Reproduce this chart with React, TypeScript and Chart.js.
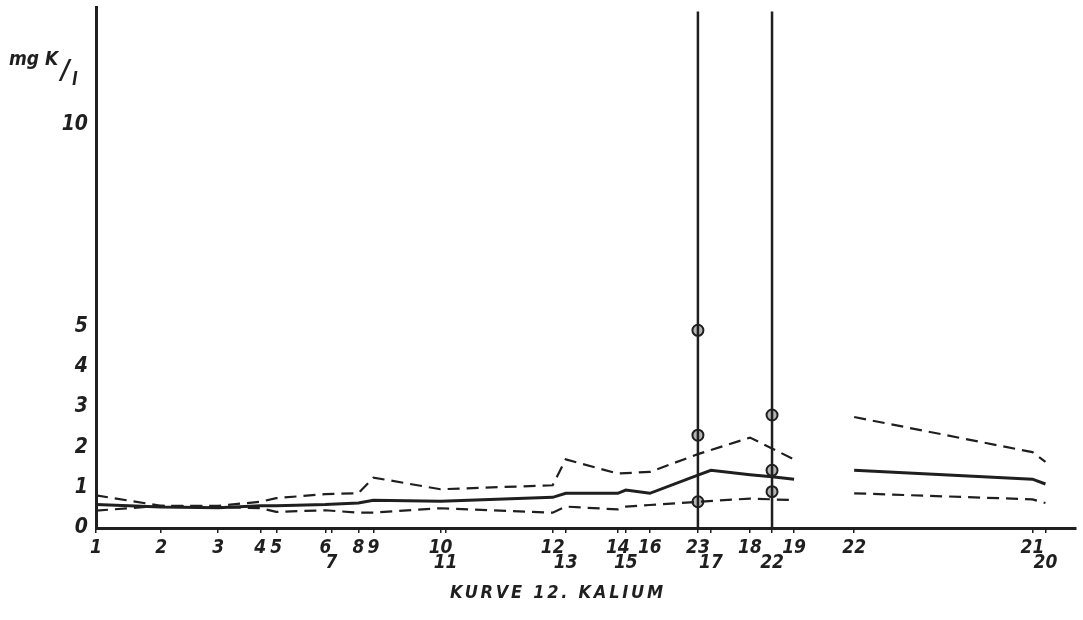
import React, { useEffect, useRef } from 'react';
import { Chart, registerables } from 'chart.js';

Chart.register(...registerables);

const INK = '#1f1f1f';
const FONT = "'DejaVu Sans Condensed', 'DejaVu Sans', sans-serif";

// Sampling stations along the river (label, position, label row)
const stationLabels = ['1', '2', '3', '4', '5', '6', '7', '8', '9', '10', '11', '12', '13', '14', '15', '16', '23', '17', '18', '22', '19', '22', '21', '20'];
const stationKm = [0, 6.5, 12.2, 16.4, 18.0, 22.9, 23.5, 26.2, 27.7, 34.4, 34.9, 45.6, 46.9, 52.1, 52.9, 55.3, 60.1, 61.4, 65.3, 67.5, 69.7, 75.7, 93.5, 94.8];
const labelRow = [1, 1, 1, 1, 1, 1, 2, 1, 1, 1, 2, 1, 2, 1, 2, 1, 1, 2, 1, 2, 1, 1, 1, 2];
const leftCount = 21;

// mg K / l — left reach (stations 1..19) and right reach (22, 21, 20)
const meanLeft = [0.58, 0.52, 0.5, 0.55, 0.55, 0.58, null, 0.62, 0.69, 0.66, null, 0.76, 0.86, 0.86, 0.94, 0.86, 1.31, 1.43, 1.32, 1.27, 1.21];
const upperLeft = [0.81, 0.55, 0.55, 0.65, 0.74, 0.84, null, 0.86, 1.25, 0.96, null, 1.06, 1.7, 1.35, null, 1.39, 1.83, null, 2.24, null, 1.7];
const lowerLeft = [0.43, 0.55, 0.52, 0.49, 0.4, 0.44, null, 0.38, 0.38, 0.49, null, 0.38, 0.53, 0.46, 0.53, 0.57, 0.65, null, 0.73, null, 0.69];
const meanRight = [1.43, 1.21, 1.09];
const upperRight = [2.75, 1.88, 1.64];
const lowerRight = [0.86, 0.71, 0.62];

// vertical profiles at stations 23 and 22
const profileStationIdx = [16, 19];
const profileTop = 12.8;
const samplesAt23 = [4.9, 2.3, 0.65];
const samplesAt22 = [2.8, 1.43, 0.9];

const yTicks = [0, 1, 2, 3, 4, 5, 10];
const yMax = 12.9;
const xMax = 97.8;
const title = 'KURVE 12. KALIUM';

const pts = (vals: (number | null)[], offset: number) =>
  vals.map((y, i) => ({ x: stationKm[offset + i], y }));

const lineDs = (vals: (number | null)[], offset: number, dashed: boolean) => ({
  data: pts(vals, offset),
  borderColor: INK,
  borderWidth: dashed ? 2.2 : 3,
  borderDash: dashed ? [12, 7] : [],
  pointRadius: 0,
  spanGaps: true,
  tension: 0,
  fill: false,
});

const annotPlugin = {
  id: 'annot',
  afterDraw(chart: any) {
    const ctx = chart.ctx as CanvasRenderingContext2D;
    ctx.save();
    ctx.fillStyle = INK;
    ctx.textBaseline = 'alphabetic';
    ctx.textAlign = 'left';
    ctx.font = `italic bold 19px ${FONT}`;
    ctx.fillText('mg K', 9, 65);
    ctx.font = `italic bold 27px ${FONT}`;
    ctx.fillText('/', 61, 79);
    ctx.font = `italic bold 17px ${FONT}`;
    ctx.fillText('l', 72, 85);

    ctx.font = `italic bold 18px ${FONT}`;
    const target = 213;
    (ctx as any).letterSpacing = '0px';
    const w = ctx.measureText(title).width;
    const ls = Math.max(0, (target - w) / (title.length - 1));
    (ctx as any).letterSpacing = `${ls}px`;
    ctx.fillText(title, 450, 598);
    ctx.restore();
  },
};

export default function App() {
  const ref = useRef<HTMLCanvasElement | null>(null);

  useEffect(() => {
    if (!ref.current) return;
    const datasets: any[] = [
      lineDs(meanLeft, 0, false),
      lineDs(upperLeft, 0, true),
      lineDs(lowerLeft, 0, true),
      lineDs(meanRight, leftCount, false),
      lineDs(upperRight, leftCount, true),
      lineDs(lowerRight, leftCount, true),
      ...profileStationIdx.map((idx) => ({
        data: [
          { x: stationKm[idx], y: 0 },
          { x: stationKm[idx], y: profileTop },
        ],
        borderColor: INK,
        borderWidth: 2.5,
        pointRadius: 0,
        fill: false,
      })),
      {
        data: [
          ...samplesAt23.map((y) => ({ x: stationKm[profileStationIdx[0]], y })),
          ...samplesAt22.map((y) => ({ x: stationKm[profileStationIdx[1]], y })),
        ],
        showLine: false,
        pointRadius: 5.5,
        pointBorderWidth: 2,
        pointBorderColor: INK,
        pointBackgroundColor: 'rgba(120,120,120,0.55)',
        pointStyle: 'circle',
      },
    ];

    const noPad = (s: any) => {
      s.paddingTop = 0;
      s.paddingBottom = 0;
      s.paddingLeft = 0;
      s.paddingRight = 0;
    };

    const chart = new Chart(ref.current, {
      type: 'line',
      data: { datasets },
      plugins: [annotPlugin],
      options: {
        animation: false,
        responsive: true,
        maintainAspectRatio: false,
        layout: { padding: { top: 7, right: 3, bottom: 40, left: 0 } },
        plugins: { legend: { display: false }, tooltip: { enabled: false }, title: { display: false } },
        scales: {
          x: {
            type: 'linear',
            position: 'bottom',
            min: 0,
            max: xMax,
            afterBuildTicks: (s: any) => {
              s.ticks = stationKm.map((v) => ({ value: v }));
            },
            afterFit: (s: any) => {
              s.height = 52;
              noPad(s);
            },
            ticks: {
              autoSkip: false,
              maxRotation: 0,
              padding: 8,
              color: INK,
              font: { family: FONT, size: 19, style: 'italic', weight: 'bold', lineHeight: '15px' },
              callback: (_v: any, i: number) =>
                labelRow[i] === 1 ? [stationLabels[i], ''] : ['', stationLabels[i]],
            },
            grid: { drawOnChartArea: false, drawTicks: true, tickLength: 5, color: INK, lineWidth: 1.5 },
            border: { display: true, color: INK, width: 3 },
          },
          y: {
            type: 'linear',
            min: 0,
            max: yMax,
            afterBuildTicks: (s: any) => {
              s.ticks = yTicks.map((v) => ({ value: v }));
            },
            afterFit: (s: any) => {
              s.width = 96;
              noPad(s);
            },
            ticks: {
              padding: 8,
              color: INK,
              font: { family: FONT, size: 21, style: 'italic', weight: 'bold' },
            },
            grid: { drawOnChartArea: false, drawTicks: false },
            border: { display: true, color: INK, width: 3 },
          },
        },
      } as any,
    });
    return () => chart.destroy();
  }, []);

  return (
    <div style={{ position: 'fixed', left: 0, top: 0, width: 1083, height: 620, background: '#fff' }}>
      <canvas ref={ref} />
    </div>
  );
}
